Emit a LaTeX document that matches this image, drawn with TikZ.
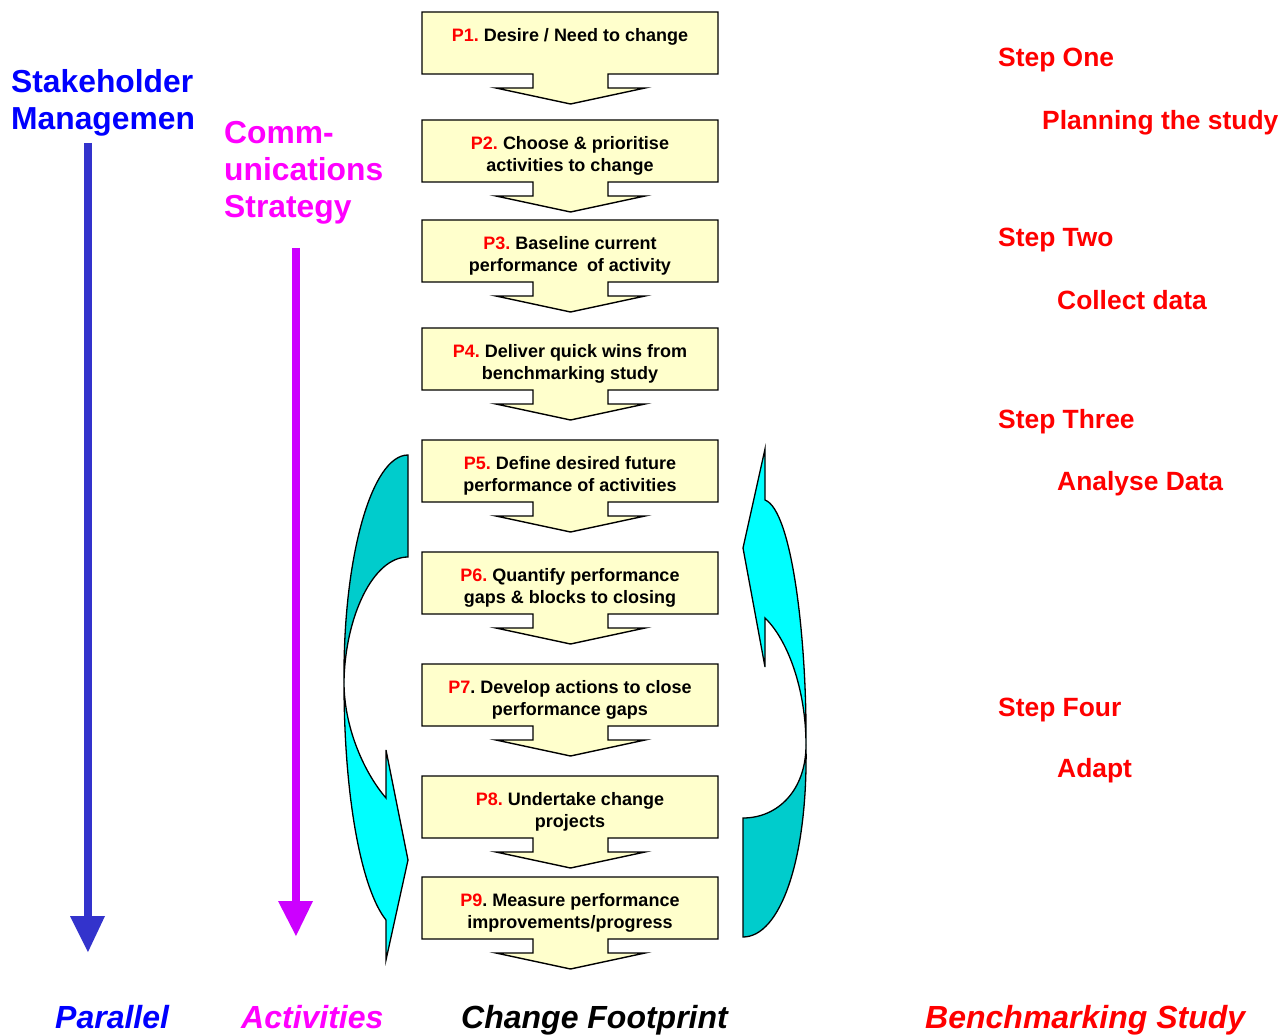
\documentclass[tikz,border=0pt]{standalone}
\usepackage{fontspec}
\setmainfont{Liberation Sans}
\definecolor{boxfill}{HTML}{FFFFCC}
\definecolor{pred}{HTML}{FF0000}
\definecolor{tblue}{HTML}{0000FF}
\definecolor{tmag}{HTML}{FF00FF}
\definecolor{ablue}{HTML}{3333CC}
\definecolor{apurple}{HTML}{CC00FF}
\definecolor{teal2}{HTML}{00CCCC}
\definecolor{cyan2}{HTML}{00FFFF}
\tikzset{
  boxshape/.style={draw=black, fill=boxfill, line width=1.4pt, line join=miter},
  boxtext/.style={inner sep=0pt, align=center, font=\fontsize{18}{22}\selectfont\bfseries\frenchspacing},
  bigtext/.style={inner sep=0pt, anchor=base west, align=left, font=\fontsize{31.8}{37}\selectfont\bfseries},
  steptext/.style={inner sep=0pt, anchor=base west, text=pred, font=\fontsize{26.4}{30}\selectfont\bfseries},
  foottext/.style={inner sep=0pt, anchor=base west, font=\fontsize{32}{36}\selectfont\bfseries\itshape},
  curvedark/.style={draw=black, fill=teal2, line width=1.3pt, line join=miter},
  curvelight/.style={draw=black, fill=cyan2, line width=1.3pt, line join=miter},
}
\newcommand{\pbox}[3]{%
  \draw[boxshape] (422,#2) -- (718,#2) -- (718,#2+62) -- (608,#2+62) -- (608,#2+76) -- (645,#2+76) -- (570.5,#2+92) -- (496,#2+76) -- (533,#2+76) -- (533,#2+62) -- (422,#2+62) -- cycle;
  \node[boxtext, anchor=north] (#1) at (570,#2+16) {#3};
}
\begin{document}
\begin{tikzpicture}[x=1pt,y=-1pt]
\useasboundingbox[fill=white] (0,0) rectangle (1288,1035);

% curved arrows (left)
\draw[curvedark] (408,455) .. controls (372,455) and (343,556) .. (344,682) .. controls (345,617) and (373,557) .. (408,557) -- cycle;
\draw[curvelight] (344,682) .. controls (344,800) and (362,890) .. (386,920) -- (386,960) -- (408,860) -- (386,750) -- (386,798) .. controls (366,775) and (344,730) .. (344,682) -- cycle;

% curved arrows (right)
\draw[curvelight] (765,449) -- (743,548) -- (765,667) -- (765,618) .. controls (788,640) and (806,690) .. (806,745) .. controls (807,640) and (792,510) .. (765,500) -- cycle;
\draw[curvedark] (743,818) .. controls (778,818) and (806,790) .. (806,745) .. controls (808,860) and (780,937) .. (743,937) -- cycle;

% boxes
\pbox{p1}{12}{\textcolor{pred}{P1.} Desire / Need to change}
\pbox{p2}{120}{\textcolor{pred}{P2.} Choose \& prioritise\\activities to change}
\pbox{p3}{220}{\textcolor{pred}{P3.} Baseline current\\performance\hspace{4pt} of activity}
\pbox{p4}{328}{\textcolor{pred}{P4.} Deliver quick wins from\\benchmarking study}
\pbox{p5}{440}{\textcolor{pred}{P5.} Define desired future\\performance of activities}
\pbox{p6}{552}{\textcolor{pred}{P6.} Quantify performance\\gaps \& blocks to closing}
\pbox{p7}{664}{\textcolor{pred}{P7}. Develop actions to close\\performance gaps}
\pbox{p8}{776}{\textcolor{pred}{P8.} Undertake change\\projects}
\pbox{p9}{877}{\textcolor{pred}{P9}. Measure performance\\improvements/progress}

% left headings (base anchor = last line baseline)
\node[bigtext, text=tblue] (stake) at (11,130) {Stakeholder\\Managemen};
\node[bigtext, text=tmag] (comm) at (224,218) {Comm-\\unications\\Strategy};

% vertical arrows
\coordinate (bA) at (88,143);
\coordinate (bB) at (88,918);
\draw[ablue, line width=8pt] (bA) -- (bB);
\fill[ablue] (70,916) -- (105,916) -- (88,952) -- cycle;
\coordinate (mA) at (296,248);
\coordinate (mB) at (296,903);
\draw[apurple, line width=8pt] (mA) -- (mB);
\fill[apurple] (278,901) -- (313,901) -- (296,936) -- cycle;

% steps
\node[steptext] (s1) at (998,67) {Step One};
\node[steptext] (s1b) at (1042,130) {Planning the study};
\node[steptext] (s2) at (998,247) {Step Two};
\node[steptext] (s2b) at (1057,309) {Collect data};
\node[steptext] (s3) at (998,428) {Step Three};
\node[steptext] (s3b) at (1057,490) {Analyse Data};
\node[steptext] (s4) at (998,716) {Step Four};
\node[steptext] (s4b) at (1057,777) {Adapt};

% footer
\node[foottext, text=tblue] (f1) at (55,1028) {Parallel};
\node[foottext, text=tmag] (f2) at (241,1028) {Activities};
\node[foottext, text=black] (f3) at (461,1028) {Change Footprint};
\node[foottext, text=pred] (f4) at (925,1028) {Benchmarking Study};
\end{tikzpicture}
\end{document}
